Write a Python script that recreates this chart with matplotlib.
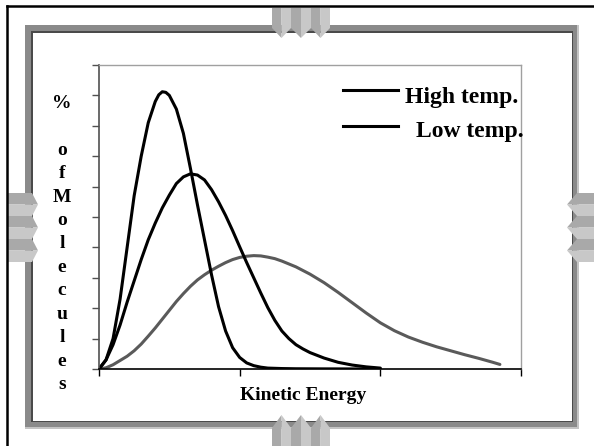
import matplotlib
matplotlib.use("Agg")
import matplotlib.pyplot as plt
from matplotlib.patches import Polygon, Rectangle
from matplotlib.lines import Line2D

# ---------------- data ----------------
x_tall = [0, 0.05, 0.10, 0.15, 0.20, 0.25, 0.30, 0.35, 0.40, 0.425, 0.45, 0.475,
          0.50, 0.55, 0.60, 0.65, 0.70, 0.75, 0.80, 0.85, 0.90, 0.95, 1.00,
          1.05, 1.10, 1.15, 1.20, 1.30, 1.40, 1.60, 1.80, 2.00]
y_tall = [0, 0.3, 1.0, 2.3, 4.0, 5.7, 7.0, 8.1, 8.8, 9.02, 9.12, 9.1,
          9.0, 8.55, 7.75, 6.6, 5.4, 4.25, 3.1, 2.05, 1.25, 0.7, 0.38,
          0.2, 0.11, 0.06, 0.03, 0.015, 0.008, 0.004, 0.002, 0.0]

x_mid = [0, 0.05, 0.10, 0.15, 0.20, 0.25, 0.30, 0.35, 0.40, 0.45, 0.50, 0.55,
         0.60, 0.65, 0.70, 0.75, 0.80, 0.85, 0.90, 0.95, 1.00, 1.05, 1.10,
         1.15, 1.20, 1.25, 1.30, 1.35, 1.40, 1.45, 1.50, 1.60, 1.70, 1.80,
         1.90, 2.00]
y_mid = [0, 0.3, 0.8, 1.45, 2.2, 2.9, 3.6, 4.25, 4.8, 5.3, 5.72, 6.1,
         6.32, 6.42, 6.38, 6.22, 5.9, 5.5, 5.05, 4.55, 4.02, 3.5, 3.0,
         2.5, 2.02, 1.6, 1.25, 1.0, 0.8, 0.66, 0.54, 0.36, 0.22, 0.13,
         0.07, 0.03]

x_low = [0, 0.05, 0.10, 0.15, 0.20, 0.25, 0.30, 0.35, 0.40, 0.45, 0.50, 0.55,
         0.60, 0.65, 0.70, 0.75, 0.80, 0.85, 0.90, 0.95, 1.00, 1.05, 1.10,
         1.15, 1.20, 1.25, 1.30, 1.40, 1.50, 1.60, 1.70, 1.80, 1.90, 2.00,
         2.10, 2.20, 2.30, 2.40, 2.50, 2.60, 2.70, 2.80, 2.85]
y_low = [0, 0.04, 0.14, 0.28, 0.42, 0.6, 0.82, 1.08, 1.35, 1.64, 1.93, 2.22,
         2.48, 2.72, 2.93, 3.1, 3.25, 3.38, 3.5, 3.6, 3.67, 3.71, 3.73,
         3.72, 3.68, 3.63, 3.55, 3.36, 3.12, 2.84, 2.52, 2.18, 1.84, 1.52,
         1.26, 1.05, 0.88, 0.73, 0.6, 0.47, 0.35, 0.22, 0.15]

legend_labels = ["High temp.", "Low temp."]
y_label = "%\n \no\nf\nM\no\nl\ne\nc\nu\nl\ne\ns"
x_label = "Kinetic Energy"
x_ticks = [0, 1, 2, 3]
y_ticks = list(range(0, 11))

# ---------------- figure ----------------
W, H = 594, 446
fig = plt.figure(figsize=(W / 100, H / 100), dpi=100)
fig.patch.set_facecolor("white")

bg = fig.add_axes([0, 0, 1, 1], zorder=0)
bg.set_xlim(0, W)
bg.set_ylim(H, 0)
bg.axis("off")

# outer black border (top + left)
bg.add_line(Line2D([7, W], [6, 6], color="black", lw=1.8))
bg.add_line(Line2D([7, 7], [6, H], color="black", lw=1.8))

# gray frame
bg.add_patch(Rectangle((25, 25), 554, 404, facecolor="#c4c4c4", edgecolor="none"))
bg.add_patch(Rectangle((25, 25), 552, 402, facecolor="#8a8a8a", edgecolor="none"))
bg.add_patch(Rectangle((31, 31), 542, 391, facecolor="#4a4a4a", edgecolor="none"))
bg.add_patch(Rectangle((33, 33), 539, 388, facecolor="white", edgecolor="none"))

dark, light = "#a9a9a9", "#c8c8c8"

def down_arrow(x0, x1, ytop, yshoulder, ytip):
    xc = (x0 + x1) / 2
    bg.add_patch(Polygon([(x0, ytop), (xc, ytop), (xc, ytip), (x0, yshoulder)],
                         closed=True, facecolor=dark, edgecolor="none"))
    bg.add_patch(Polygon([(xc, ytop), (x1, ytop), (x1, yshoulder), (xc, ytip)],
                         closed=True, facecolor=light, edgecolor="none"))

def up_arrow(x0, x1, ybot, yshoulder, ytip):
    xc = (x0 + x1) / 2
    bg.add_patch(Polygon([(x0, ybot), (xc, ybot), (xc, ytip), (x0, yshoulder)],
                         closed=True, facecolor=dark, edgecolor="none"))
    bg.add_patch(Polygon([(xc, ybot), (x1, ybot), (x1, yshoulder), (xc, ytip)],
                         closed=True, facecolor=light, edgecolor="none"))

def right_arrow(y0, y1, xleft, xshoulder, xtip):
    yc = (y0 + y1) / 2
    bg.add_patch(Polygon([(xleft, y0), (xshoulder, y0), (xtip, yc), (xleft, yc)],
                         closed=True, facecolor=dark, edgecolor="none"))
    bg.add_patch(Polygon([(xleft, yc), (xtip, yc), (xshoulder, y1), (xleft, y1)],
                         closed=True, facecolor=light, edgecolor="none"))

def left_arrow(y0, y1, xright, xshoulder, xtip):
    yc = (y0 + y1) / 2
    bg.add_patch(Polygon([(xright, y0), (xshoulder, y0), (xtip, yc), (xright, yc)],
                         closed=True, facecolor=dark, edgecolor="none"))
    bg.add_patch(Polygon([(xright, yc), (xtip, yc), (xshoulder, y1), (xright, y1)],
                         closed=True, facecolor=light, edgecolor="none"))

for a, b in [(272, 291), (291, 311), (311, 330)]:
    down_arrow(a, b, 8, 28, 38)
    up_arrow(a, b, H, 428, 415)
for a, b in [(193, 216), (216, 239), (239, 262)]:
    right_arrow(a, b, 8, 32, 38)
    left_arrow(a, b, W, 577, 567)

# ---------------- chart ----------------
L, R, T, B = 99, 521, 65, 369
ax = fig.add_axes([L / W, 1 - B / H, (R - L) / W, (B - T) / H], zorder=1)
ax.set_facecolor("white")
ax.plot(x_low, y_low, color="#5a5a5a", lw=2.2, solid_joinstyle="round",
        solid_capstyle="round")
ax.plot(x_mid, y_mid, color="black", lw=2.2, solid_joinstyle="round",
        solid_capstyle="round")
ax.plot(x_tall, y_tall, color="black", lw=2.2, solid_joinstyle="round",
        solid_capstyle="round")
ax.set_xlim(0, 3)
ax.set_ylim(0, 10)
ax.set_xticks(x_ticks)
ax.set_yticks(y_ticks)
ax.set_xticklabels([])
ax.set_yticklabels([])
ax.tick_params(axis="both", direction="out", length=5, width=1.0)
ax.tick_params(axis="y", colors="#505050")
ax.tick_params(axis="x", colors="black")
for s in ["top", "right"]:
    ax.spines[s].set_color("#a0a0a0")
    ax.spines[s].set_linewidth(1.0)
ax.spines["left"].set_color("#505050")
ax.spines["left"].set_linewidth(1.2)
ax.spines["bottom"].set_color("black")
ax.spines["bottom"].set_linewidth(1.2)

# overlay for legend and labels
ov = fig.add_axes([0, 0, 1, 1], zorder=2)
ov.set_xlim(0, W)
ov.set_ylim(H, 0)
ov.axis("off")
ov.patch.set_alpha(0)

serif = ["Liberation Serif", "DejaVu Serif"]

ov.add_line(Line2D([343, 398], [90, 90], color="black", lw=2.2))
ov.add_line(Line2D([343, 398], [126, 126], color="black", lw=2.2))
ov.text(405, 98, legend_labels[0], fontsize=17, fontweight="bold", family=serif,
        ha="left", va="center")
ov.text(416, 131, legend_labels[1], fontsize=17, fontweight="bold", family=serif,
        ha="left", va="center")

ov.text(62, 244, y_label, fontsize=14, fontweight="bold", family=serif,
        ha="center", va="center", linespacing=1.496, multialignment="center")
ov.text(303, 395, x_label, fontsize=14, fontweight="bold", family=serif,
        ha="center", va="center")

fig.savefig("out.png", dpi=100, facecolor="white")
